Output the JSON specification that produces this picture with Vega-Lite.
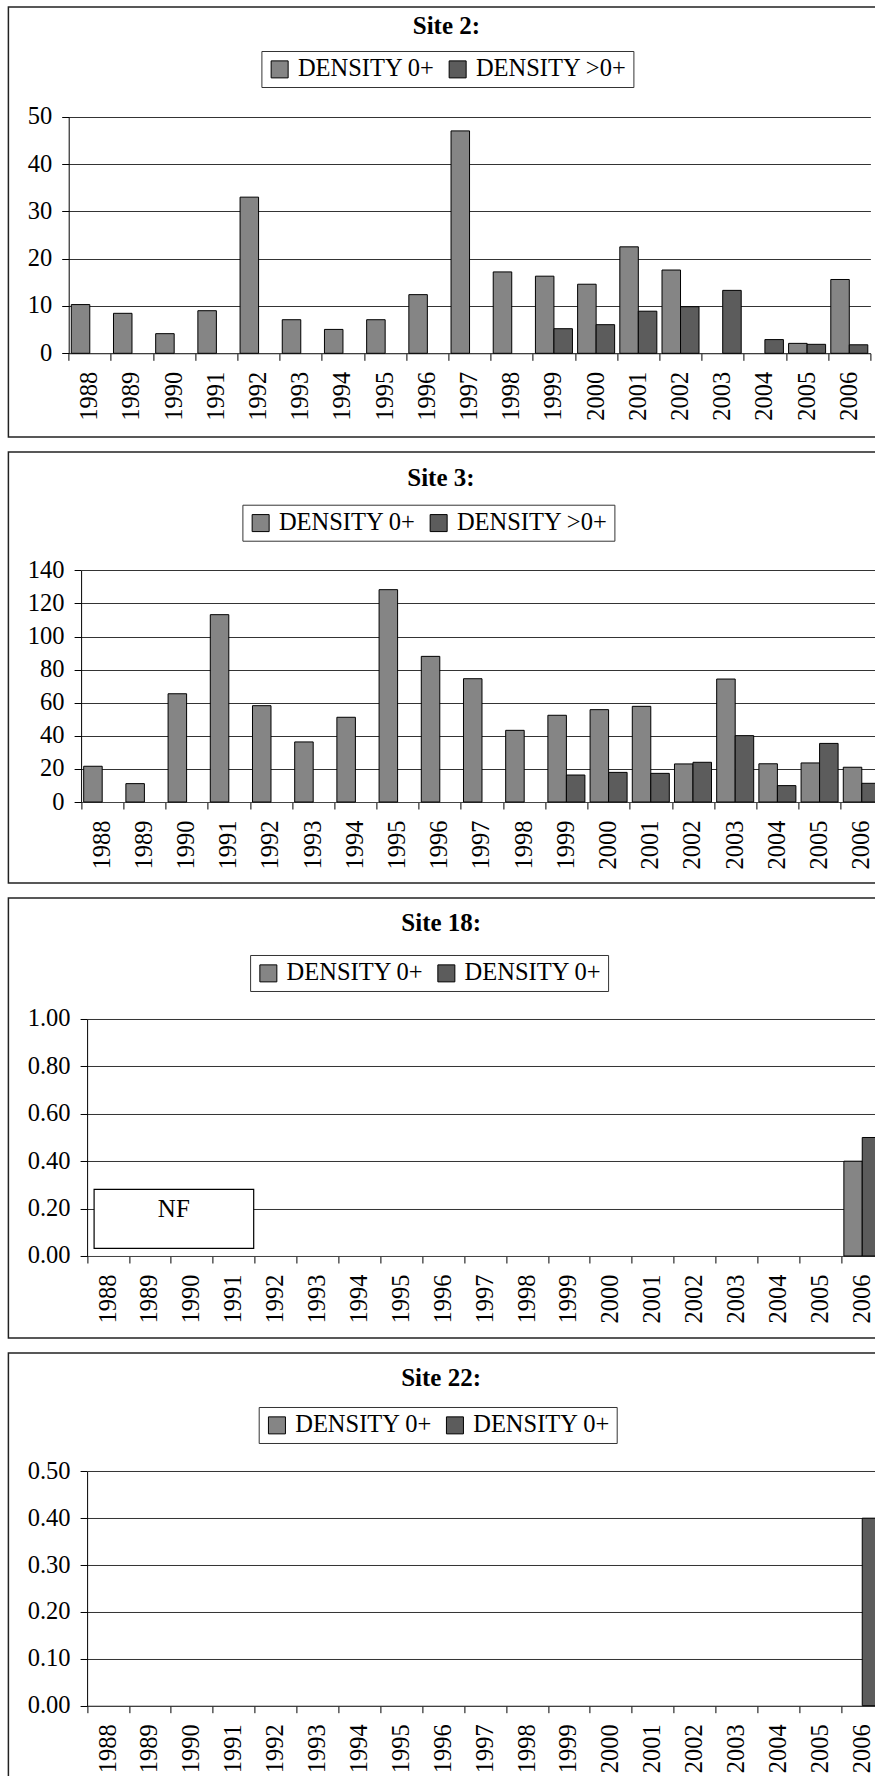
{
  "$schema": "https://vega.github.io/schema/vega-lite/v6.json",
  "background": "white",
  "padding": {"left": -5.6, "top": 6, "right": 0, "bottom": 0},
  "spacing": 13,
  "config": {
    "font": "Liberation Serif",
    "view": {"stroke": "#222", "strokeWidth": 1.5},
    "axis": {"labelFont": "Liberation Serif", "labelFontSize": 24.5, "labelColor": "black", "tickColor": "black", "tickSize": 7, "domainColor": "black", "tickWidth": 1, "domainWidth": 1},
    "title": {"font": "Liberation Serif", "fontSize": 25, "fontWeight": "bold", "color": "black", "baseline": "middle", "frame": "group", "anchor": "middle"},
    "legend": {"labelFont": "Liberation Serif", "labelFontSize": 24.5, "labelColor": "black", "symbolType": "square", "symbolSize": 289, "symbolStrokeColor": "black", "symbolStrokeWidth": 1, "strokeColor": "#333", "fillColor": "white", "padding": 6, "labelOffset": 6, "columnPadding": 10, "labelLimit": 400, "direction": "horizontal", "orient": "none", "columns": 2}
  },
  "resolve": {
    "scale": {"x": "independent", "y": "independent", "xOffset": "independent", "fill": "independent"},
    "axis": {"x": "independent", "y": "independent"},
    "legend": {"fill": "independent"}
  },
  "datasets": {
    "site2": [
      {"year": "1988", "series": "0+", "density": 10.3},
      {"year": "1989", "series": "0+", "density": 8.45},
      {"year": "1990", "series": "0+", "density": 4.15},
      {"year": "1991", "series": "0+", "density": 9.0},
      {"year": "1992", "series": "0+", "density": 33.0},
      {"year": "1993", "series": "0+", "density": 7.1},
      {"year": "1994", "series": "0+", "density": 5.05},
      {"year": "1995", "series": "0+", "density": 7.1},
      {"year": "1996", "series": "0+", "density": 12.4},
      {"year": "1997", "series": "0+", "density": 47.0},
      {"year": "1998", "series": "0+", "density": 17.2},
      {"year": "1999", "series": "0+", "density": 16.3},
      {"year": "2000", "series": "0+", "density": 14.6},
      {"year": "2001", "series": "0+", "density": 22.5},
      {"year": "2002", "series": "0+", "density": 17.6},
      {"year": "2005", "series": "0+", "density": 2.1},
      {"year": "2006", "series": "0+", "density": 15.6},
      {"year": "1999", "series": ">0+", "density": 5.2},
      {"year": "2000", "series": ">0+", "density": 6.05},
      {"year": "2001", "series": ">0+", "density": 8.9},
      {"year": "2002", "series": ">0+", "density": 9.85},
      {"year": "2003", "series": ">0+", "density": 13.3},
      {"year": "2004", "series": ">0+", "density": 2.9},
      {"year": "2005", "series": ">0+", "density": 1.9},
      {"year": "2006", "series": ">0+", "density": 1.8}
    ],
    "site3": [
      {"year": "1988", "series": "0+", "density": 21.6},
      {"year": "1989", "series": "0+", "density": 11.1},
      {"year": "1990", "series": "0+", "density": 65.4},
      {"year": "1991", "series": "0+", "density": 113.2},
      {"year": "1992", "series": "0+", "density": 58.2},
      {"year": "1993", "series": "0+", "density": 36.3},
      {"year": "1994", "series": "0+", "density": 51.2},
      {"year": "1995", "series": "0+", "density": 128.3},
      {"year": "1996", "series": "0+", "density": 88.0},
      {"year": "1997", "series": "0+", "density": 74.5},
      {"year": "1998", "series": "0+", "density": 43.3},
      {"year": "1999", "series": "0+", "density": 52.4},
      {"year": "2000", "series": "0+", "density": 55.8},
      {"year": "2001", "series": "0+", "density": 57.8},
      {"year": "2002", "series": "0+", "density": 23.0},
      {"year": "2003", "series": "0+", "density": 74.3},
      {"year": "2004", "series": "0+", "density": 23.1},
      {"year": "2005", "series": "0+", "density": 23.6},
      {"year": "2006", "series": "0+", "density": 21.0},
      {"year": "1999", "series": ">0+", "density": 16.3},
      {"year": "2000", "series": ">0+", "density": 17.9},
      {"year": "2001", "series": ">0+", "density": 17.3},
      {"year": "2002", "series": ">0+", "density": 24.0},
      {"year": "2003", "series": ">0+", "density": 40.1},
      {"year": "2004", "series": ">0+", "density": 9.9},
      {"year": "2005", "series": ">0+", "density": 35.4},
      {"year": "2006", "series": ">0+", "density": 11.3}
    ],
    "site18": [
      {"year": "2006", "series": "0+", "density": 0.40},
      {"year": "2006", "series": ">0+", "density": 0.50}
    ],
    "site22": [
      {"year": "2006", "series": ">0+", "density": 0.40}
    ]
  },
  "vconcat": [
    {
      "width": 876,
      "height": 430,
      "title": {"text": "Site 2:", "offset": -31.5},
      "data": {"name": "site2"},
      "mark": {"type": "bar", "stroke": "black", "strokeWidth": 1},
      "encoding": {
        "x": {"field": "year", "type": "ordinal",
          "scale": {"domain": ["1988","1989","1990","1991","1992","1993","1994","1995","1996","1997","1998","1999","2000","2001","2002","2003","2004","2005","2006"], "range": [60.3, 862], "paddingInner": 0, "paddingOuter": 0},
          "axis": {"title": null, "offset": -83.7, "labelAngle": 270, "labelPadding": 11, "tickBand": "extent", "grid": false, "domainColor": "#444"}},
        "xOffset": {"field": "series", "scale": {"domain": ["0+", ">0+"], "paddingInner": 0, "paddingOuter": 0.14}},
        "y": {"field": "density", "type": "quantitative",
          "scale": {"domain": [0, 50], "range": [346.3, 109.7], "nice": false, "zero": true},
          "axis": {"title": null, "offset": -60.3, "values": [0, 10, 20, 30, 40, 50], "format": "d", "grid": true, "gridColor": "#333", "labelPadding": 10, "labelFlush": false}},
        "fill": {"field": "series", "type": "nominal",
          "scale": {"domain": ["0+", ">0+"], "range": ["#858585", "#5c5c5c"]},
          "legend": {"title": null, "legendX": 253, "legendY": 44, "labelExpr": "'DENSITY ' + datum.label"}}
      }
    },
    {
      "width": 876,
      "height": 431,
      "title": {"text": "Site 3:", "offset": -38.5, "dx": -5.5},
      "data": {"name": "site3"},
      "mark": {"type": "bar", "stroke": "black", "strokeWidth": 1},
      "encoding": {
        "x": {"field": "year", "type": "ordinal",
          "scale": {"domain": ["1988","1989","1990","1991","1992","1993","1994","1995","1996","1997","1998","1999","2000","2001","2002","2003","2004","2005","2006"], "range": [72.7, 874.5], "paddingInner": 0, "paddingOuter": 0},
          "axis": {"title": null, "offset": -81, "labelAngle": 270, "labelPadding": 11, "tickBand": "extent", "grid": false, "domainColor": "#444"}},
        "xOffset": {"field": "series", "scale": {"domain": ["0+", ">0+"], "paddingInner": 0, "paddingOuter": 0.14}},
        "y": {"field": "density", "type": "quantitative",
          "scale": {"domain": [0, 140], "range": [350, 118.3], "nice": false, "zero": true},
          "axis": {"title": null, "offset": -72.7, "values": [0, 20, 40, 60, 80, 100, 120, 140], "format": "d", "grid": true, "gridColor": "#333", "labelPadding": 10, "labelFlush": false}},
        "fill": {"field": "series", "type": "nominal",
          "scale": {"domain": ["0+", ">0+"], "range": ["#858585", "#5c5c5c"]},
          "legend": {"title": null, "legendX": 234, "legendY": 52.7, "labelExpr": "'DENSITY ' + datum.label"}}
      }
    },
    {
      "width": 876,
      "height": 440,
      "title": {"text": "Site 18:", "offset": -37.8, "dx": -5.2},
      "layer": [
        {
          "data": {"name": "site18"},
          "mark": {"type": "bar", "stroke": "black", "strokeWidth": 1},
          "encoding": {
            "x": {"field": "year", "type": "ordinal",
              "scale": {"domain": ["1988","1989","1990","1991","1992","1993","1994","1995","1996","1997","1998","1999","2000","2001","2002","2003","2004","2005","2006"], "range": [78.7, 874.8], "paddingInner": 0, "paddingOuter": 0},
              "axis": {"title": null, "offset": -82, "labelAngle": 270, "labelPadding": 11, "tickBand": "extent", "grid": false, "domainColor": "#444"}},
            "xOffset": {"field": "series", "scale": {"domain": ["0+", ">0+"], "paddingInner": 0, "paddingOuter": 0.14}},
            "y": {"field": "density", "type": "quantitative",
              "scale": {"domain": [0, 1], "range": [358, 121], "nice": false, "zero": true},
              "axis": {"title": null, "offset": -78.7, "values": [0, 0.2, 0.4, 0.6, 0.8, 1.0], "format": ".2f", "grid": true, "gridColor": "#333", "labelPadding": 10, "labelFlush": false}},
            "fill": {"field": "series", "type": "nominal",
              "scale": {"domain": ["0+", ">0+"], "range": ["#858585", "#5c5c5c"]},
              "legend": {"title": null, "legendX": 241.7, "legendY": 57, "labelExpr": "'DENSITY 0+'"}}
          }
        },
        {
          "data": {"values": [{"label": "NF"}]},
          "mark": {"type": "rect", "fill": "white", "stroke": "black", "strokeWidth": 1.2},
          "encoding": {
            "x": {"datum": "1988", "type": "ordinal", "bandPosition": 0.167},
            "x2": {"datum": "1991", "bandPosition": 0.976},
            "y": {"datum": 0.032, "type": "quantitative"},
            "y2": {"datum": 0.281}
          }
        },
        {
          "data": {"values": [{"label": "NF"}]},
          "mark": {"type": "text", "font": "Liberation Serif", "fontSize": 25, "color": "black", "baseline": "middle", "align": "center"},
          "encoding": {
            "x": {"datum": "1990", "type": "ordinal", "bandPosition": 0.07},
            "y": {"datum": 0.2, "type": "quantitative"},
            "text": {"field": "label"}
          }
        }
      ]
    },
    {
      "width": 876,
      "height": 440,
      "title": {"text": "Site 22:", "offset": -38, "dx": -5.3},
      "data": {"name": "site22"},
      "mark": {"type": "bar", "stroke": "black", "strokeWidth": 1},
      "encoding": {
        "x": {"field": "year", "type": "ordinal",
          "scale": {"domain": ["1988","1989","1990","1991","1992","1993","1994","1995","1996","1997","1998","1999","2000","2001","2002","2003","2004","2005","2006"], "range": [78.7, 874.8], "paddingInner": 0, "paddingOuter": 0},
          "axis": {"title": null, "offset": -87.3, "labelAngle": 270, "labelPadding": 11, "tickBand": "extent", "grid": false, "domainColor": "#444"}},
        "xOffset": {"field": "series", "scale": {"domain": ["0+", ">0+"], "paddingInner": 0, "paddingOuter": 0.14}},
        "y": {"field": "density", "type": "quantitative",
          "scale": {"domain": [0, 0.5], "range": [352.7, 118.3], "nice": false, "zero": true},
          "axis": {"title": null, "offset": -78.7, "values": [0, 0.1, 0.2, 0.3, 0.4, 0.5], "format": ".2f", "grid": true, "gridColor": "#333", "labelPadding": 10, "labelFlush": false}},
        "fill": {"field": "series", "type": "nominal",
          "scale": {"domain": ["0+", ">0+"], "range": ["#858585", "#5c5c5c"]},
          "legend": {"title": null, "legendX": 250.3, "legendY": 54, "labelExpr": "'DENSITY 0+'"}}
      }
    }
  ]
}
